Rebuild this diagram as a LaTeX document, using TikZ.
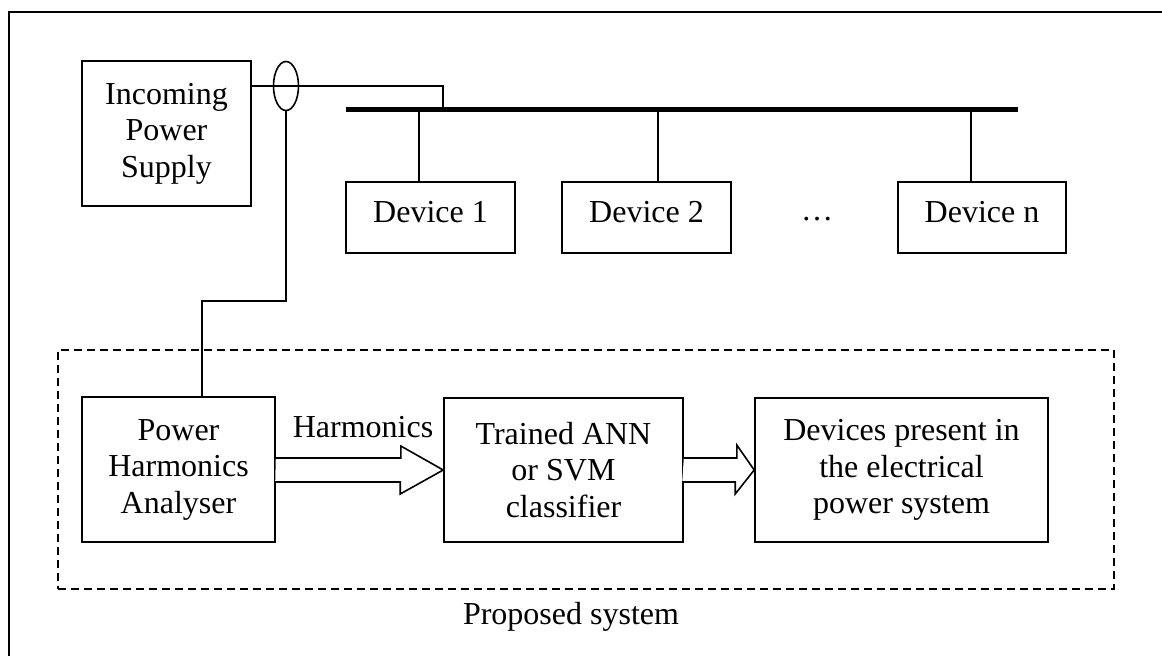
\documentclass[tikz,border=0pt]{standalone}
\usepackage{fontspec}
\setmainfont{Liberation Serif}
\usetikzlibrary{shapes.geometric,calc}

\begin{document}
\begin{tikzpicture}[x=1pt,y=-1pt,
  wire/.style={line width=1.6pt},
  blk/.style={draw,line width=1.6pt,align=center,inner sep=0pt,
    font=\fontsize{32}{36.5}\selectfont},
  lbl/.style={inner sep=0pt,anchor=base,font=\fontsize{32}{36.5}\selectfont},
  devbox/.style={blk,minimum width=169pt,minimum height=71pt,
    text height=21pt,text depth=12pt},
  bigarrow/.style={draw,line width=1.6pt,fill=white,line join=miter},
  sysframe/.style={draw,line width=1.6pt,dash pattern=on 8pt off 5pt,
    minimum width=1056pt,minimum height=239pt,inner sep=0pt}]

\useasboundingbox (0,0) rectangle (1162,656);

% outer frame (top and left edges)
\coordinate (frTR) at (1162,12);
\coordinate (frTL) at (9,12);
\coordinate (frBL) at (9,656);
\draw[wire] (frTR) -- (frTL) -- (frBL);

% supply side
\node[blk,minimum width=169pt,minimum height=145pt] (ips) at (166.5,133.5)
  {Incoming\\Power\\Supply};
\node[draw,ellipse,line width=1.6pt,minimum width=25pt,minimum height=49pt,
  inner sep=0pt] (ct) at (286,86) {};

% bus bar
\coordinate (busL) at (346,109);
\coordinate (busR) at (1018,109);
\coordinate (tap) at (443,109);
\draw[line width=5pt] (busL) -- (busR);
\draw[wire] (ct.center -| ips.east) -- (ct.center -| tap) -- (tap);

% loads
\node[devbox] (d1) at (430.5,217.5) {Device 1};
\node[devbox] (d2) at (646.5,217.5) {Device 2};
\node[devbox,minimum width=168pt] (dn) at (982,217.5) {Device n};
\node[lbl] (dots) at (817,220) {…};
\draw[wire] ([xshift=-11.5pt]d1.north) -- ([xshift=-11.5pt]d1.north |- busL);
\draw[wire] ([xshift=11.5pt]d2.north) -- ([xshift=11.5pt]d2.north |- busL);
\draw[wire] ([xshift=-11pt]dn.north) -- ([xshift=-11pt]dn.north |- busL);

% proposed system
\node[sysframe] (sys) at (586,469.5) {};
\node[lbl] (syslbl) at (571,624) {Proposed system};

\node[blk,minimum width=193pt,minimum height=145pt] (pha) at (178.5,469.5)
  {Power\\Harmonics\\Analyser};
\node[blk,minimum width=239pt,minimum height=144pt] (trn) at (563.5,470)
  {Trained ANN\\or SVM\\classifier};
\node[blk,minimum width=293pt,minimum height=144pt] (dev) at (901.5,470)
  {Devices present in\\the electrical\\power system};

% sensor lead
\coordinate (bend) at (202,301);
\draw[wire] (ct.south) |- (bend) -- (bend |- pha.north);

% block arrows
\draw[bigarrow] ([yshift=11.5pt]pha.east) -- ++(125,0) -- ++(0,-12)
  -- (trn.west) -- ++(-43,24) -- ++(0,-12) -- ++(-125,0);
\node[lbl] (harm) at (363,437) {Harmonics};
\draw[bigarrow] ([yshift=12pt]trn.east) -- ++(53,0) -- ++(0,-13)
  -- (dev.west) -- ++(-19,24) -- ++(0,-12) -- ++(-53,0);

\end{tikzpicture}
\end{document}
